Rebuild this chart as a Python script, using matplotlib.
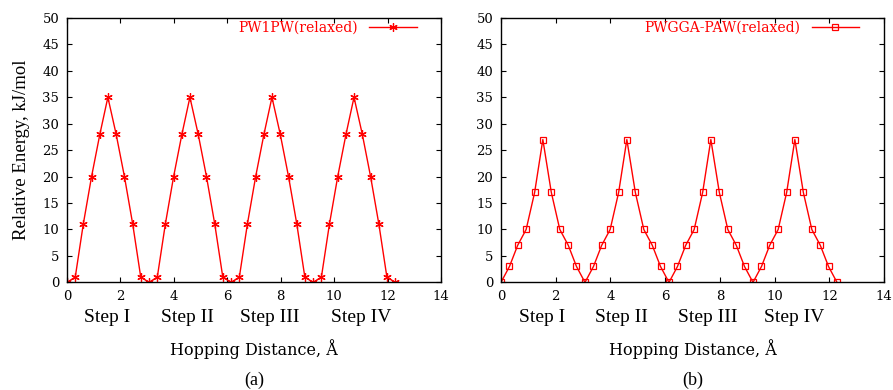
import matplotlib.pyplot as plt

hop = [0.00, 0.31, 0.61, 0.92, 1.23, 1.53, 1.84, 2.15, 2.46, 2.76,
       3.07, 3.38, 3.68, 3.99, 4.30, 4.60, 4.91, 5.22, 5.53, 5.83,
       6.14, 6.45, 6.75, 7.06, 7.37, 7.67, 7.98, 8.29, 8.60, 8.90,
       9.21, 9.52, 9.82, 10.13, 10.44, 10.74, 11.05, 11.36, 11.67, 11.97,
       12.28]
e_pw1pw = [0, 1, 11, 20, 28, 35, 28, 20, 11, 1,
           0, 1, 11, 20, 28, 35, 28, 20, 11, 1,
           0, 1, 11, 20, 28, 35, 28, 20, 11, 1,
           0, 1, 11, 20, 28, 35, 28, 20, 11, 1,
           0]
e_pwgga = [0, 3, 7, 10, 17, 27, 17, 10, 7, 3,
           0, 3, 7, 10, 17, 27, 17, 10, 7, 3,
           0, 3, 7, 10, 17, 27, 17, 10, 7, 3,
           0, 3, 7, 10, 17, 27, 17, 10, 7, 3,
           0]
steps = ['Step I', 'Step II', 'Step III', 'Step IV']
step_x_a = [1.5, 4.5, 7.6, 11.0]
step_x_b = [1.5, 4.4, 7.55, 10.7]

fig = plt.figure(figsize=(8.93, 3.9), dpi=100)
ax1 = fig.add_axes([0.075, 0.276, 0.419, 0.678])
ax2 = fig.add_axes([0.561, 0.276, 0.429, 0.678])

serif = 'DejaVu Serif'
times = ['Liberation Serif']

def style(ax):
    ax.set_xlim(0, 14)
    ax.set_ylim(0, 50)
    ax.set_xticks(range(0, 15, 2))
    ax.set_yticks(range(0, 51, 5))
    ax.tick_params(direction='in', top=True, right=True, length=3.5,
                   width=0.8, pad=5.5)
    for lab in ax.get_xticklabels() + ax.get_yticklabels():
        lab.set_fontfamily(serif)
        lab.set_fontsize(9.5)
    for s in ax.spines.values():
        s.set_linewidth(1.0)

ax1.plot(hop, e_pw1pw, color='red', lw=1.0, marker=(6, 2, 0), ms=6,
         mew=0.9, label='PW1PW(relaxed)')
ax2.plot(hop, e_pwgga, color='red', lw=1.0, marker='s', ms=5,
         mfc='none', mew=0.9, label='PWGGA-PAW(relaxed)')

for ax, sx, tag in [(ax1, step_x_a, '(a)'), (ax2, step_x_b, '(b)')]:
    style(ax)
    leg = ax.legend(loc='upper right', bbox_to_anchor=(0.942, 1.0),
                    markerfirst=False, frameon=False,
                    handlelength=3.4, handletextpad=0.8, borderaxespad=0,
                    borderpad=0.2, prop={'family': serif, 'size': 10})
    for t in leg.get_texts():
        t.set_color('red')
    for x, s in zip(sx, steps):
        ax.text(x, -6.6, s, ha='center', va='center', fontsize=14,
                family=times)
    ax.set_xlabel('Hopping Distance, Å', family=serif, fontsize=11.5,
                  labelpad=26)
    ax.text(0.5, -0.37, tag, transform=ax.transAxes, ha='center',
            va='center', fontsize=13, family=times)

ax1.set_ylabel('Relative Energy, kJ/mol', family=times, fontsize=13.5,
               labelpad=9)

fig.savefig('out.png', dpi=100)
